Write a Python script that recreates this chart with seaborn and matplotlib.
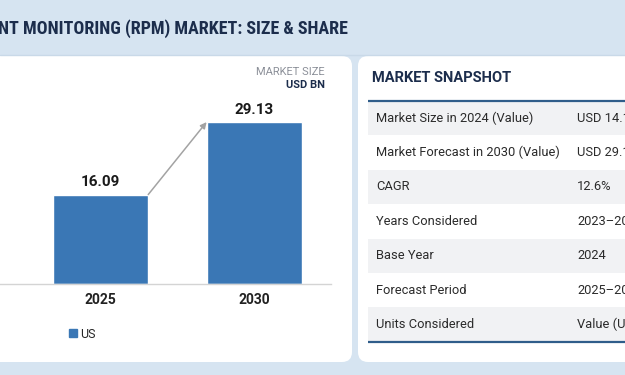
import numpy as np
import pandas as pd
import matplotlib
matplotlib.use("Agg")
import matplotlib.pyplot as plt
import seaborn as sns
from matplotlib.patches import FancyBboxPatch, Rectangle, Patch

# data
years = ["2025", "2030"]
market_size = [16.09, 29.13]
series_name = "US"

snapshot_labels = ["Market Size in 2024 (Value)", "Market Forecast in 2030 (Value)", "CAGR",
                   "Years Considered", "Base Year", "Forecast Period", "Units Considered"]
snapshot_values = ["USD 14.10 BN", "USD 29.13 BN", "12.6%", "2023\u20132030", "2024",
                   "2025\u20132030", "Value (USD Billion)"]

title = "NT MONITORING (RPM) MARKET: SIZE & SHARE"

# colours
band = "#d6e4f1"
navy = "#1c2d4c"
bar_color = "#3a77b5"
row_gray = "#f1f2f4"

sns.set_theme(style="white")
plt.rcParams["font.family"] = ["Roboto", "DejaVu Sans"]

fig = plt.figure(figsize=(6.25, 3.75), dpi=100)
fig.patch.set_facecolor(band)

# background layer in pixel coordinates
bg = fig.add_axes([0, 0, 1, 1])
bg.set_xlim(0, 625)
bg.set_ylim(375, 0)
bg.axis("off")

bg.plot([0, 625], [54.5, 54.5], color="#c9d9e8", lw=1)
bg.add_patch(FancyBboxPatch((-20, 56), 372, 306, boxstyle="round,pad=0,rounding_size=10",
                            fc="white", ec="none"))
bg.add_patch(FancyBboxPatch((358, 56), 290, 306, boxstyle="round,pad=0,rounding_size=10",
                            fc="white", ec="none"))

bg.text(-2, 29, title, fontsize=13, fontweight="bold", color=navy, va="center", ha="left",
        family=["Roboto Condensed", "DejaVu Sans"])

bg.text(325, 72, "MARKET SIZE", fontsize=8, color="#8c9099", ha="right", va="center")
bg.text(325, 85, "USD BN", fontsize=8, fontweight="bold", color=navy, ha="right", va="center")

# snapshot table
bg.text(372, 78, "MARKET SNAPSHOT", fontsize=10.5, fontweight="bold", color=navy, va="center")
row_top = 101
row_h = 34.4
for i, (lab, val) in enumerate(zip(snapshot_labels, snapshot_values)):
    y0 = row_top + i * row_h
    if i % 2 == 0:
        bg.add_patch(Rectangle((368, y0), 260, row_h, fc=row_gray, ec="none"))
    bg.text(376, y0 + row_h / 2, lab, fontsize=9.3, color="#2b2b2b", va="center")
    bg.text(577, y0 + row_h / 2, val, fontsize=9.3, color="#2b2b2b", va="center")
bg.plot([368, 625], [row_top, row_top], color="#2f5d8a", lw=1.6, solid_capstyle="butt")
bg.plot([368, 625], [row_top + 7 * row_h, row_top + 7 * row_h], color="#2f5d8a", lw=1.6,
        solid_capstyle="butt")

# bar chart
ax = fig.add_axes([0, 91 / 375, 331 / 625, 224 / 375])
ax.set_facecolor("none")
df = pd.DataFrame({"year": years, "value": market_size})
sns.barplot(data=df, x="year", y="value", color=bar_color, saturation=1, width=0.62, ax=ax)
ax.set_xlim(-0.655, 1.5)
ax.set_ylim(0, 40.3)
ax.set_xlabel("")
ax.set_ylabel("")
ax.set_yticks([])
for s in ["top", "right", "left"]:
    ax.spines[s].set_visible(False)
ax.spines["bottom"].set_color("#d4d4d4")
ax.spines["bottom"].set_linewidth(1)
ax.tick_params(axis="x", length=0, pad=6.5)
for t in ax.get_xticklabels():
    t.set_fontweight("bold")
    t.set_fontsize(10)
    t.set_color("#222222")

for i, v in enumerate(market_size):
    ax.annotate(f"{v:.2f}", (i, v), xytext=(0, 4), textcoords="offset points",
                ha="center", va="bottom", fontsize=11, fontweight="bold", color="#1a1a1a")

half = 0.31
ax.annotate("", xy=(1 - half, market_size[1]), xytext=(half, market_size[0]),
            arrowprops=dict(arrowstyle="-|>", color="#a3a3a3", lw=1.1, mutation_scale=9,
                            shrinkA=0, shrinkB=0))

fig.legend(handles=[Patch(color=bar_color, label=series_name)], loc="center left",
           bbox_to_anchor=(64 / 625, 1 - 334 / 375), frameon=False, fontsize=9,
           handlelength=0.6, handleheight=0.6, handletextpad=0.3, borderaxespad=0)

fig.savefig("out.png", dpi=100, facecolor=band)
